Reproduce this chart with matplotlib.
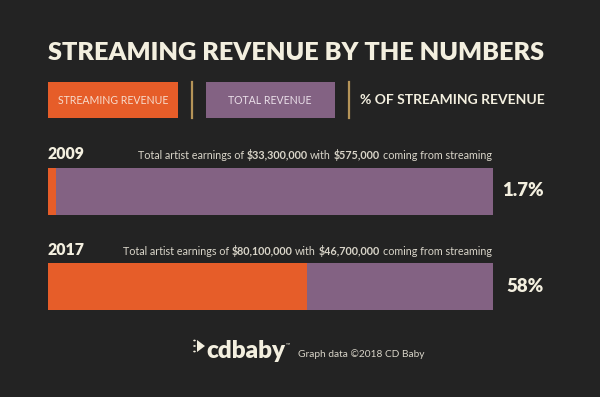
import matplotlib
matplotlib.use("Agg")
import matplotlib.pyplot as plt
from matplotlib.patches import Rectangle, Polygon, Circle
from matplotlib.lines import Line2D

# ---------------- data ----------------
years = ["2009", "2017"]
total_earnings = [33_300_000, 80_100_000]
streaming_earnings = [575_000, 46_700_000]
pct_labels = ["1.7%", "58%"]
title = "STREAMING REVENUE BY THE NUMBERS"
legend_labels = ["STREAMING REVENUE", "TOTAL REVENUE", "% OF STREAMING REVENUE"]
credit = "Graph data \u00a92018 CD Baby"

# ---------------- style ----------------
BG = "#232323"
ORANGE = "#e65d29"
PURPLE = "#836283"
CREAM = "#f3efdf"
SUB = "#d9d5c9"
GOLD = "#b59458"
FONT = "Lato"

W, H = 600, 397
fig = plt.figure(figsize=(W / 100, H / 100), dpi=100, facecolor=BG)


def fx(x):
    return x / W


def fy(y):
    return 1 - y / H


# title
fig.text(fx(296), fy(59.5), title, ha="center", va="baseline", color=CREAM,
         fontsize=18.2, fontweight="heavy", family=FONT)

# legend
fig.patches.append(Rectangle((fx(48.5), fy(118)), fx(178) - fx(48.5), fy(82) - fy(118),
                             transform=fig.transFigure, facecolor=ORANGE, edgecolor="none"))
fig.patches.append(Rectangle((fx(205.5), fy(118)), fx(334.5) - fx(205.5), fy(82) - fy(118),
                             transform=fig.transFigure, facecolor=PURPLE, edgecolor="none"))
for xd in (191.6, 348.6):
    fig.lines.append(Line2D([fx(xd), fx(xd)], [fy(82), fy(118)], transform=fig.transFigure,
                            color=GOLD, lw=1.6))
fig.text(fx(113.3), fy(100.5), legend_labels[0], ha="center", va="center", color="#f6dccd",
         fontsize=7.6, family=FONT)
fig.text(fx(270), fy(100.5), legend_labels[1], ha="center", va="center", color="#eadfe9",
         fontsize=7.6, family=FONT)
fig.text(fx(359.5), fy(100.5), legend_labels[2], ha="left", va="center", color=CREAM,
         fontsize=10.0, fontweight="bold", family=FONT)

# bars axes
bar_left, bar_right = 48.5, 492.5
bar_h_px = 47
gap_px = 95.7
top_px = 167.5
h = bar_h_px / gap_px
ax_height_px = gap_px + bar_h_px
ax = fig.add_axes([fx(bar_left), fy(top_px + ax_height_px), fx(bar_right) - fx(bar_left),
                   ax_height_px / H])
ax.set_facecolor("none")
ypos = list(range(len(years)))
share = [s / t for s, t in zip(streaming_earnings, total_earnings)]
ax.barh(ypos, [1.0] * len(years), height=h, color=PURPLE, left=0)
ax.barh(ypos, share, height=h, color=ORANGE, left=0)
ax.set_xlim(0, 1)
ax.set_ylim(1 + h / 2, -h / 2)
ax.axis("off")

fig.canvas.draw()
renderer = fig.canvas.get_renderer()


def text_w(s, weight, size):
    t = fig.text(0, 0, s, fontsize=size, fontweight=weight, family=FONT)
    w = t.get_window_extent(renderer).width
    t.remove()
    return w


SUBSIZE = 7.75
space_w = text_w("n n", "normal", SUBSIZE) - text_w("nn", "normal", SUBSIZE)


def fmt(v):
    return "${:,}".format(v)


for i, yr in enumerate(years):
    top = top_px + i * gap_px
    base = top - 8.5
    fig.text(fx(48), fy(base), yr, ha="left", va="baseline", color=CREAM,
             fontsize=11.4, fontweight="heavy", family=FONT)
    pieces = [("Total artist earnings of", "normal"), (fmt(total_earnings[i]), "bold"),
              ("with", "normal"), (fmt(streaming_earnings[i]), "bold"),
              ("coming from streaming", "normal")]
    x = 491.8
    for txt, wt in reversed(pieces):
        t = fig.text(fx(x), fy(base), txt, ha="right", va="baseline", color=SUB,
                     fontsize=SUBSIZE, fontweight=wt, family=FONT)
        x -= t.get_window_extent(renderer).width + space_w
    ax.annotate(pct_labels[i], xy=(1, ypos[i]), xycoords="data",
                xytext=(51, 0), textcoords="offset pixels", ha="right", va="center",
                color=CREAM, fontsize=13.4, fontweight="heavy", family=FONT)

# logo
tri = Polygon([(fx(197), fy(340)), (fx(197), fy(352)), (fx(205), fy(346))], closed=True,
              transform=fig.transFigure, facecolor=CREAM, edgecolor="none")
fig.patches.append(tri)
for (cx, cy) in [(194.5, 340.5), (194.5, 346), (194.5, 351.5)]:
    fig.patches.append(Circle((fx(cx), fy(cy)), 1.3 / W, transform=fig.transFigure,
                              facecolor=CREAM, edgecolor="none"))
logo = fig.text(fx(206), fy(357.5), "cdbaby", ha="left", va="baseline", color=CREAM,
                fontsize=17.5, fontweight="heavy", family=FONT)
lx = logo.get_window_extent(renderer).x1
fig.text(lx / W + 0.5 / W, fy(346), "\u2122", ha="left", va="baseline", color=CREAM,
         fontsize=4, family=FONT)
fig.text(fx(297.5), fy(357), credit, ha="left", va="baseline", color=SUB,
         fontsize=7.3, family=FONT)

fig.savefig("out.png", dpi=100, facecolor=BG)
